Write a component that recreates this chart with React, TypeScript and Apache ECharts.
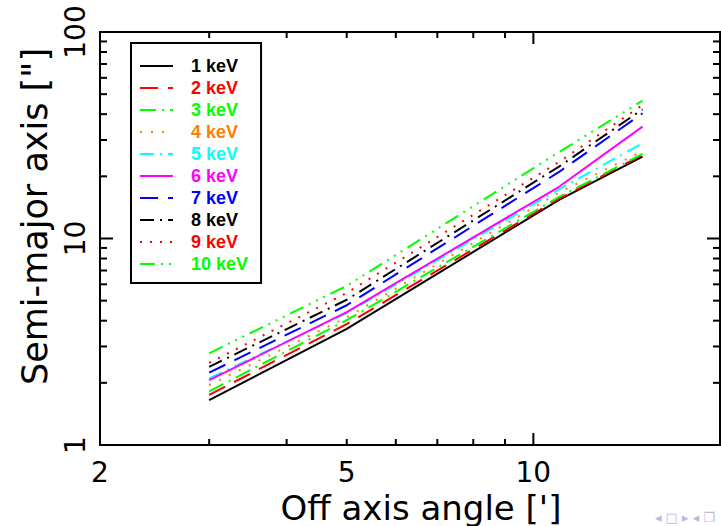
import React, { useEffect, useRef } from "react";
import * as echarts from "echarts";

const angles = [3, 5, 11, 15];
const kev1 = [1.65, 3.65, 15.4, 24.9];
const kev2 = [1.75, 3.85, 15.6, 25.4];
const kev3 = [1.82, 4.02, 15.9, 25.7];
const kev4 = [1.95, 4.15, 16.7, 26.5];
const kev5 = [2.1, 4.35, 17.3, 28.9];
const kev6 = [2.06, 4.4, 17.8, 34.8];
const kev7 = [2.24, 4.75, 21.0, 40.4];
const kev8 = [2.39, 5.05, 22.3, 42.2];
const kev9 = [2.5, 5.45, 23.5, 44.3];
const kev10 = [2.78, 5.9, 26.2, 46.5];

const seriesNames = ["1 keV", "2 keV", "3 keV", "4 keV", "5 keV", "6 keV", "7 keV", "8 keV", "9 keV", "10 keV"];
const seriesValues = [kev1, kev2, kev3, kev4, kev5, kev6, kev7, kev8, kev9, kev10];
const seriesColors = ["#000000", "#ff0000", "#00ff00", "#ff8000", "#00ffff", "#ff00ff", "#0000ff", "#000000", "#ff0000", "#00ff00"];
const seriesDash: (string | number[])[] = [
  "solid",
  [18, 10],
  [16, 6, 2, 6],
  [2, 9],
  [14, 6, 2, 6],
  "solid",
  [18, 10],
  [14, 6, 2, 6],
  [2, 8],
  [15, 6, 2, 6, 2, 6, 2, 6],
];

const xLabelValues = [2, 5, 10];
const xMinorTicks = [3, 4, 5, 6, 7, 8, 9];
const xMajorTicks = [10];
const yMinorTicks = [2, 3, 4, 5, 6, 7, 8, 9, 20, 30, 40, 50, 60, 70, 80, 90];
const yMajorTicks = [10];

function tickSeries(values: number[], axis: "x" | "y", len: number) {
  return {
    type: "custom",
    silent: true,
    z: 5,
    clip: false,
    data: values.map((v) => (axis === "x" ? [v, 10] : [10, v])),
    renderItem: (params: any, api: any) => {
      const cs = params.coordSys;
      const style = { stroke: "#000", lineWidth: 2 };
      if (axis === "x") {
        const px = api.coord([api.value(0), 10])[0];
        return {
          type: "group",
          children: [
            { type: "line", shape: { x1: px, y1: cs.y + cs.height, x2: px, y2: cs.y + cs.height - len }, style },
            { type: "line", shape: { x1: px, y1: cs.y, x2: px, y2: cs.y + len }, style },
          ],
        };
      }
      const py = api.coord([10, api.value(1)])[1];
      return {
        type: "group",
        children: [
          { type: "line", shape: { x1: cs.x, y1: py, x2: cs.x + len, y2: py }, style },
          { type: "line", shape: { x1: cs.x + cs.width, y1: py, x2: cs.x + cs.width - len, y2: py }, style },
        ],
      };
    },
  };
}

export default function App() {
  const ref = useRef<HTMLDivElement>(null);
  useEffect(() => {
    if (!ref.current) return;
    const chart = echarts.init(ref.current, null, { renderer: "svg" });
    const lineSeries = seriesNames.map((name, i) => ({
      name,
      type: "line",
      symbol: "none",
      z: 3,
      data: angles.map((a, j) => [a, seriesValues[i][j]]),
      lineStyle: { color: seriesColors[i], width: 2, type: seriesDash[i] as any, cap: "butt" },
      itemStyle: { color: seriesColors[i] },
    }));
    chart.setOption({
      animation: false,
      backgroundColor: "#ffffff",
      grid: {
        left: 100,
        right: 1,
        top: 32,
        bottom: 81,
        containLabel: false,
        outerBoundsMode: "none",
        show: true,
        borderColor: "#000",
        borderWidth: 2,
        backgroundColor: "transparent",
      },
      legend: {
        orient: "vertical",
        left: 131,
        top: 43,
        backgroundColor: "#fff",
        borderColor: "#000",
        borderWidth: 2,
        borderRadius: 0,
        padding: [14, 13, 10, 8],
        itemWidth: 33,
        itemHeight: 14,
        itemGap: 4,
        itemStyle: { opacity: 0 },
        data: seriesNames.map((n, i) => ({ name: n, textStyle: { color: seriesColors[i] } })),
        textStyle: {
          fontFamily: "Liberation Sans",
          fontWeight: "bold",
          fontSize: 18,
          padding: [0, 0, 0, 13],
        },
      },
      xAxis: {
        type: "log",
        logBase: 10,
        min: 2,
        max: 20,
        name: "Off axis angle [']",
        nameLocation: "middle",
        nameMoveOverlap: false,
        nameGap: 46,
        nameTextStyle: { fontFamily: "DejaVu Sans", fontSize: 34, lineHeight: 34, color: "#000", padding: [0, 0, 0, 22] },
        axisLine: { show: false },
        axisTick: { show: false },
        splitLine: { show: false },
        minorTick: { show: false },
        axisLabel: {
          customValues: xLabelValues,
          fontFamily: "DejaVu Sans",
          fontSize: 28,
          lineHeight: 28,
          color: "#000",
          margin: 13,
          formatter: (v: number) => String(Math.round(v)),
        },
      },
      yAxis: {
        type: "log",
        logBase: 10,
        min: 1,
        max: 100,
        name: 'Semi-major axis ["]',
        nameLocation: "middle",
        nameMoveOverlap: false,
        nameGap: 48,
        nameTextStyle: { fontFamily: "DejaVu Sans", fontSize: 35, color: "#000", padding: [0, 0, 0, 44] },
        axisLine: { show: false },
        axisTick: { show: false },
        splitLine: { show: false },
        axisLabel: {
          rotate: 90,
          align: "center",
          verticalAlign: "middle",
          fontFamily: "DejaVu Sans",
          fontSize: 28,
          color: "#000",
          margin: 25,
          formatter: (v: number) => String(Math.round(v)),
        },
      },
      graphic: [
        {
          type: "text",
          right: 6,
          bottom: 2,
          style: { text: "◂ □ ▸ ◂ ❐", fontSize: 13, fill: "#b8b8dc", fontFamily: "DejaVu Sans" },
        },
      ],
      series: [
        ...lineSeries,
        tickSeries(xMinorTicks, "x", 6),
        tickSeries(xMajorTicks, "x", 12),
        tickSeries(yMinorTicks, "y", 7),
        tickSeries(yMajorTicks, "y", 13),
      ],
    });
    return () => chart.dispose();
  }, []);
  return <div ref={ref} style={{ position: "fixed", left: 0, top: 0, width: 721, height: 526 }} />;
}
